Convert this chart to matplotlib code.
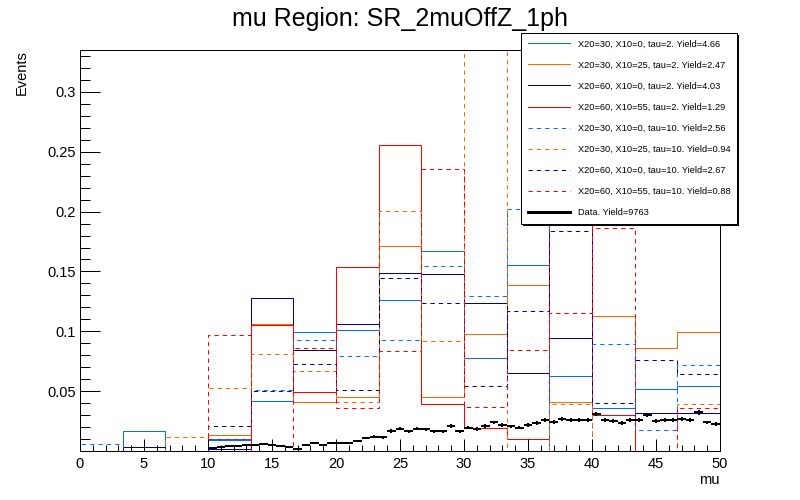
import numpy as np
import matplotlib
matplotlib.use("Agg")
import matplotlib.pyplot as plt
from matplotlib.lines import Line2D
from matplotlib.patches import Rectangle
from matplotlib.ticker import MultipleLocator

plt.rcParams['font.family'] = ['Liberation Sans', 'DejaVu Sans']
plt.rcParams['lines.scale_dashes'] = False

# ---------------- data ----------------
title = "mu Region: SR_2muOffZ_1ph"
x_label = "mu"
y_label = "Events"

n_bins = 15
x_lo, x_hi = 0.0, 50.0

labels = [
    "X20=30, X10=0, tau=2. Yield=4.66",
    "X20=30, X10=25, tau=2. Yield=2.47",
    "X20=60, X10=0, tau=2. Yield=4.03",
    "X20=60, X10=55, tau=2. Yield=1.29",
    "X20=30, X10=0, tau=10. Yield=2.56",
    "X20=30, X10=25, tau=10. Yield=0.94",
    "X20=60, X10=0, tau=10. Yield=2.67",
    "X20=60, X10=55, tau=10. Yield=0.88",
]
data_label = "Data. Yield=9763"
data_yield = 9763

s_30_0_t2 = [0, 0.017, 0, 0.009, 0.042, 0.099, 0.101, 0.126, 0.167, 0.078, 0.155, 0.0625, 0.0356, 0.0514, 0.054]
s_30_25_t2 = [0, 0, 0, 0.013, 0.106, 0.0406, 0.0447, 0.1714, 0.0447, 0.098, 0.139, 0.0406, 0.113, 0.0864, 0.0997]
s_60_0_t2 = [0, 0.003, 0, 0.002, 0.128, 0.084, 0.106, 0.149, 0.148, 0.124, 0.065, 0.094, 0.030, 0.032, 0.032]
s_60_55_t2 = [0, 0, 0, 0.0097, 0.105, 0.0497, 0.154, 0.256, 0.039, 0.019, 0.010, 0.328, 0.0297, 0, 0]
s_30_0_t10 = [0.0056, 0, 0, 0.010, 0.0506, 0.093, 0.079, 0.0928, 0.1547, 0.1297, 0.202, 0, 0.089, 0.0172, 0.0722]
s_30_25_t10 = [0, 0, 0.012, 0.053, 0.081, 0.0667, 0.0406, 0.2006, 0.0922, 0.376, 0, 0.039, 0, 0, 0.039]
s_60_0_t10 = [0, 0, 0, 0.0206, 0.050, 0.073, 0.0506, 0.1447, 0.124, 0.054, 0.117, 0.184, 0.0397, 0.0764, 0.064]
s_60_55_t10 = [0, 0, 0, 0.097, 0, 0.086, 0.0356, 0.0839, 0.236, 0.037, 0.084, 0.1156, 0.1866, 0, 0.0356]

data_lo, data_hi = 10.0, 50.0
data_vals = [0.0025, 0.0033, 0.004, 0.0044, 0.0047, 0.0047, 0.0058, 0.0053, 0.004, 0.003,
             0.0019, 0.0047, 0.0064, 0.0053, 0.0064, 0.0069, 0.0069, 0.0086, 0.0108, 0.0119,
             0.0114, 0.0167, 0.0186, 0.0164, 0.0186, 0.018, 0.0164, 0.0164, 0.0208, 0.0164,
             0.0194, 0.0183, 0.0211, 0.0239, 0.0217, 0.0206, 0.0194, 0.0217, 0.0233, 0.0256,
             0.0244, 0.0267, 0.0261, 0.0261, 0.0256, 0.0311, 0.0256, 0.025, 0.0233, 0.0256,
             0.0256, 0.03, 0.025, 0.0261, 0.0256, 0.0267, 0.0256, 0.0322, 0.0239, 0.0228]

x_ticks = [0, 5, 10, 15, 20, 25, 30, 35, 40, 45, 50]
x_ticklabels = ["0", "5", "10", "15", "20", "25", "30", "35", "40", "45", "50"]
y_ticks = [0, 0.05, 0.1, 0.15, 0.2, 0.25, 0.3]
y_ticklabels = ["", "0.05", "0.1", "0.15", "0.2", "0.25", "0.3"]

# ---------------- style ----------------
c_lblue = '#0a6cff'
c_orange = '#ff6600'
c_navy = '#000099'
c_red = '#ff0000'
dash = (0, (3.1, 2.9))
lw = 0.72

series = [s_30_0_t2, s_30_25_t2, s_60_0_t2, s_60_55_t2,
          s_30_0_t10, s_30_25_t10, s_60_0_t10, s_60_55_t10]
colors = [c_lblue, c_orange, c_navy, c_red] * 2
styles = ['-'] * 4 + [dash] * 4

fig = plt.figure(figsize=(8, 5), dpi=100)
ax = fig.add_axes([0.1, 0.098, 0.8, 0.802])

edges = np.linspace(x_lo, x_hi, n_bins + 1)
handles = []
for vals, c, ls in zip(series, colors, styles):
    ax.stairs(vals, edges, color=c, linestyle=ls, linewidth=lw, baseline=0, snap=True)
    handles.append(Line2D([], [], color=c, linestyle=ls, linewidth=lw, snap=True))

d_edges = np.linspace(data_lo, data_hi, len(data_vals) + 1)
d_cent = 0.5 * (d_edges[1:] + d_edges[:-1])
d_half = 0.5 * (d_edges[1:] - d_edges[:-1])
d_vals = np.array(data_vals)
d_err = np.sqrt(d_vals / data_yield)
eb = ax.errorbar(d_cent, d_vals, xerr=d_half, yerr=d_err, fmt='none', ecolor='k',
                 elinewidth=1.44, capsize=0, zorder=5)
for coll in eb[2]:
    coll.set_snap(True)
handles.append(Line2D([], [], color='k', linewidth=2.16))

ax.set_xlim(x_lo, x_hi)
ax.set_ylim(0, 0.335)
ax.set_xticks(x_ticks, x_ticklabels)
ax.set_yticks(y_ticks, y_ticklabels)
ax.xaxis.set_minor_locator(MultipleLocator(1))
ax.yaxis.set_minor_locator(MultipleLocator(0.01))
ax.tick_params(axis='both', which='both', direction='in', top=False, right=False,
               width=0.72, labelsize=10.5, colors='k')
ax.tick_params(axis='y', which='major', length=14.4, pad=3)
ax.tick_params(axis='y', which='minor', length=7.2)
ax.tick_params(axis='x', which='major', length=9.0, pad=4)
ax.tick_params(axis='x', which='minor', length=4.5)
for sp in ax.spines.values():
    sp.set_linewidth(0.72)

fig.text(0.5, 1 - 19 / 500, title, ha='center', va='center', fontsize=18)
fig.text(22 / 800, 1 - 50 / 500, y_label, rotation=90, ha='center', va='top', fontsize=10.5)
fig.text(720 / 800, 1 - 480 / 500, x_label, ha='right', va='center', fontsize=10.5)

leg = fig.legend(handles, labels + [data_label], loc='upper left',
                 bbox_to_anchor=(521 / 800, 1 - 33 / 500), bbox_transform=fig.transFigure,
                 borderaxespad=0, frameon=True, fancybox=False, edgecolor='k',
                 framealpha=1, fontsize=6.7, handlelength=4.6, handletextpad=0.86,
                 labelspacing=1.3, borderpad=0.7, shadow=False)
leg.get_frame().set_linewidth(0.72)
leg.set_zorder(10)

# thin black drop shadow (2 px) behind the legend box
fig.canvas.draw()
bb = leg.get_window_extent()
shadow = Rectangle((bb.x0 + 2, bb.y0 - 2), bb.width, bb.height, transform=None,
                   facecolor='k', edgecolor='none', zorder=9)
fig.add_artist(shadow)

fig.savefig("out.png", dpi=100)
